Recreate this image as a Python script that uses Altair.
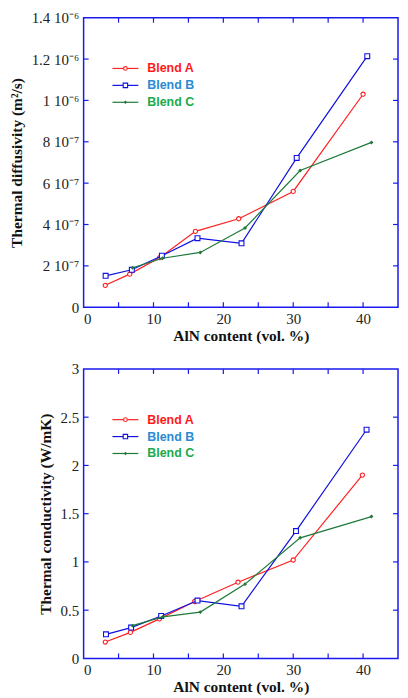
import json
import altair as alt
import pandas as pd

# ---------------- data ----------------
series_names = ["Blend A", "Blend B", "Blend C"]

# Thermal diffusivity (m^2/s)
diff_x_A = [3.1, 6.6, 10.9, 16.0, 22.2, 30.0, 40.0]
diff_y_A = [1.06e-7, 1.60e-7, 2.40e-7, 3.67e-7, 4.28e-7, 5.60e-7, 1.03e-6]
diff_x_B = [3.15, 6.9, 11.2, 16.3, 22.6, 30.5, 40.6]
diff_y_B = [1.52e-7, 1.81e-7, 2.49e-7, 3.34e-7, 3.09e-7, 7.22e-7, 1.214e-6]
diff_x_C = [7.0, 11.3, 16.7, 23.1, 31.0, 41.2]
diff_y_C = [1.91e-7, 2.37e-7, 2.65e-7, 3.83e-7, 6.61e-7, 7.97e-7]

# Thermal conductivity (W/mK)
cond_x_A = [3.1, 6.7, 10.85, 15.9, 22.1, 30.0, 39.9]
cond_y_A = [0.17, 0.27, 0.41, 0.59, 0.79, 1.02, 1.90]
cond_x_B = [3.2, 6.8, 11.1, 16.3, 22.6, 30.4, 40.5]
cond_y_B = [0.25, 0.32, 0.44, 0.60, 0.54, 1.32, 2.37]
cond_x_C = [7.0, 11.3, 16.7, 23.1, 31.0, 41.2]
cond_y_C = [0.34, 0.43, 0.48, 0.77, 1.25, 1.47]

x_ticks = [0, 5, 10, 15, 20, 25, 30, 35, 40, 45]
x_label_values = [0, 10, 20, 30, 40]
diff_ticks = [0, 2e-7, 4e-7, 6e-7, 8e-7, 1e-6, 1.2e-6, 1.4e-6]
diff_labels = ["0", "2 10⁻⁷", "4 10⁻⁷", "6 10⁻⁷", "8 10⁻⁷", "1 10⁻⁶", "1.2 10⁻⁶", "1.4 10⁻⁶"]
cond_ticks = [0, 0.5, 1.0, 1.5, 2.0, 2.5, 3.0]
cond_labels = ["0", "0.5", "1", "1.5", "2", "2.5", "3"]

x_title = "AlN content (vol. %)"
diff_title = "Thermal diffusivity (m²/s)"
cond_title = "Thermal conductivity (W/mK)"

# ---------------- styles ----------------
line_colors = {"Blend A": "#ff2020", "Blend B": "#1010e0", "Blend C": "#1f7a3a"}
text_colors = {"Blend A": "#ff1a1a", "Blend B": "#2a8ad4", "Blend C": "#1aaa4a"}
marker_shape = {"Blend A": "circle", "Blend B": "square", "Blend C": "diamond"}
marker_filled = {"Blend A": False, "Blend B": False, "Blend C": True}
marker_size = {"Blend A": 18, "Blend B": 24, "Blend C": 16}
FRAME = "#1a1aee"
W, H = 316, 291
SERIF = "Liberation Serif"
SANS = "Liberation Sans"


def panel(xs, ys, ticks, labels, step, ymax, ytitle):
    frames = []
    for name, xv, yv in zip(series_names, xs, ys):
        frames.append(pd.DataFrame({"x": xv, "y": yv, "series": name}))
    df = pd.concat(frames, ignore_index=True)

    xscale = alt.Scale(domain=[0, 45], nice=False, zero=False)
    yscale = alt.Scale(domain=[0, ymax], nice=False, zero=False)
    label_expr = f"{json.dumps(labels, ensure_ascii=False)}[round(datum.value / {step})]"

    xaxis = alt.Axis(values=x_label_values, ticks=False, domain=False, grid=False,
                     labelFont=SERIF, labelFontSize=15, labelColor="#222",
                     labelPadding=4, titleFont=SERIF, titleFontSize=15.5,
                     titleFontWeight="bold", titleColor="#111", titlePadding=2,
                     format="d")
    yaxis = alt.Axis(values=ticks, ticks=False, domain=False, grid=False,
                     labelExpr=label_expr, labelFont=SERIF, labelFontSize=15,
                     labelColor="#222", labelPadding=5, titleFont=SERIF,
                     titleFontSize=15.5, titleFontWeight="bold", titleColor="#111",
                     titlePadding=7)

    def X(field):
        return alt.X(f"{field}:Q", scale=xscale, axis=xaxis, title=x_title)

    def Y(field):
        return alt.Y(f"{field}:Q", scale=yscale, axis=yaxis, title=ytitle)

    layers = []
    for name in series_names:
        sub = df[df["series"] == name]
        base = alt.Chart(sub)
        layers.append(base.mark_line(color=line_colors[name], strokeWidth=1.2).encode(
            x=X("x"), y=Y("y")))
        layers.append(base.mark_point(
            shape=marker_shape[name], size=marker_size[name],
            color=line_colors[name], filled=marker_filled[name],
            fill=line_colors[name] if marker_filled[name] else "white",
            strokeWidth=1.1, opacity=1,
        ).encode(x=X("x"), y=Y("y")))

    # inward tick marks on all four sides
    xt = pd.DataFrame({"x": x_ticks[1:-1]})
    yt = pd.DataFrame({"y": ticks[1:-1]})
    layers.append(alt.Chart(xt).mark_rule(color=FRAME, strokeWidth=1.2).encode(
        x=X("x"), y=alt.value(H), y2=alt.value(H - 5)))
    layers.append(alt.Chart(xt).mark_rule(color=FRAME, strokeWidth=1.2).encode(
        x=X("x"), y=alt.value(0), y2=alt.value(5)))
    layers.append(alt.Chart(yt).mark_rule(color=FRAME, strokeWidth=1.2).encode(
        y=Y("y"), x=alt.value(0), x2=alt.value(5)))
    layers.append(alt.Chart(yt).mark_rule(color=FRAME, strokeWidth=1.2).encode(
        y=Y("y"), x=alt.value(W), x2=alt.value(W - 5)))

    # legend drawn inside the plot area
    for i, name in enumerate(series_names):
        ld = pd.DataFrame({"name": [name]})
        yy = 51 + 17 * i
        layers.append(alt.Chart(ld).mark_rule(color=line_colors[name], strokeWidth=1.2).encode(
            x=alt.value(29), x2=alt.value(55), y=alt.value(yy)))
        layers.append(alt.Chart(ld).mark_point(
            shape=marker_shape[name], size=marker_size[name] - 4,
            color=line_colors[name], filled=marker_filled[name],
            fill=line_colors[name] if marker_filled[name] else "white",
            strokeWidth=1.1, opacity=1).encode(x=alt.value(42), y=alt.value(yy)))
        layers.append(alt.Chart(ld).mark_text(
            align="left", baseline="middle", font=SANS, fontSize=12.5,
            fontWeight="bold", color=text_colors[name]).encode(
            x=alt.value(64), y=alt.value(yy), text="name:N"))

    return alt.layer(*layers).properties(width=W, height=H)


top = panel([diff_x_A, diff_x_B, diff_x_C], [diff_y_A, diff_y_B, diff_y_C],
            diff_ticks, diff_labels, 2e-7, 1.4e-6, diff_title)
bottom = panel([cond_x_A, cond_x_B, cond_x_C], [cond_y_A, cond_y_B, cond_y_C],
               cond_ticks, cond_labels, 0.5, 3.0, cond_title)

chart = alt.vconcat(top, bottom, spacing=62, bounds="flush").properties(
    padding={"left": 0, "top": 0, "right": 0, "bottom": 0},
    background="white",
).configure_view(stroke=FRAME, strokeWidth=1.5)

chart.save("out.html", embed_options={"renderer": "svg", "actions": False})
